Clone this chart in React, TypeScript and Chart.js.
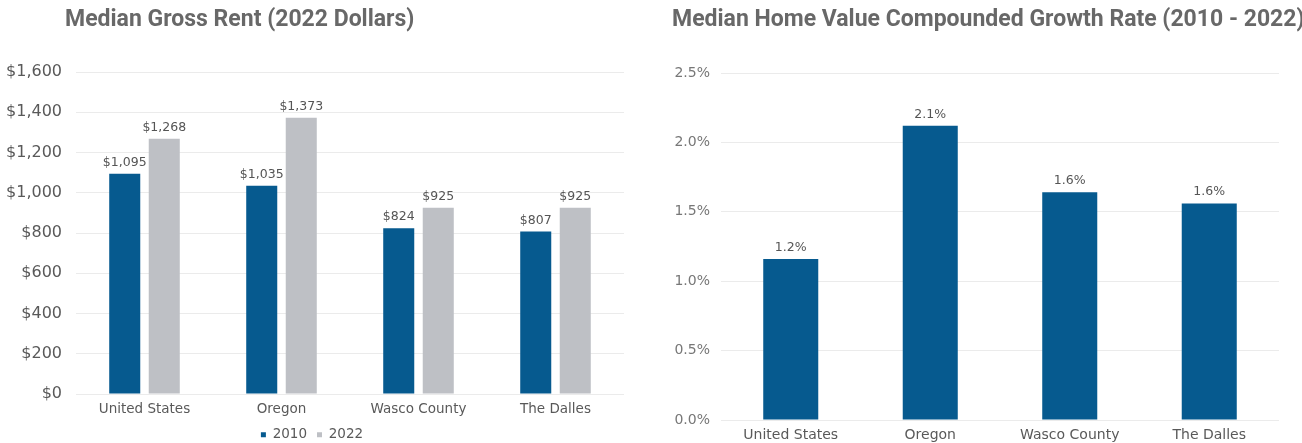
import React, { useEffect, useRef } from "react";
import { Chart, registerables } from "chart.js";

Chart.register(...registerables);

// ---- Data: Median Gross Rent (2022 Dollars) ----
const rentTitle = "Median Gross Rent (2022 Dollars)";
const rentCategories = ["United States", "Oregon", "Wasco County", "The Dalles"];
const rentSeriesLabels = ["2010", "2022"];
const rent2010 = [1095, 1035, 824, 807];
const rent2022 = [1268, 1373, 925, 925];
const rentAxisMin = 0;
const rentAxisMax = 1600;
const rentAxisStep = 200;

// ---- Data: Median Home Value Compounded Growth Rate ----
const growthTitle = "Median Home Value Compounded Growth Rate (2010 - 2022)";
const growthCategories = ["United States", "Oregon", "Wasco County", "The Dalles"];
const growthRates = [1.16, 2.12, 1.64, 1.56];
const growthAxisMin = 0;
const growthAxisMax = 2.5;
const growthAxisStep = 0.5;

const BLUE = "#065a8f";
const GRAY = "#bec0c5";
const FONT = "DejaVu Sans";

function makeTitlePlugin(text: string, x: number, y: number) {
  return {
    id: "customTitle",
    afterDraw(chart: any) {
      const ctx = chart.ctx;
      ctx.save();
      ctx.font = 'bold 23px "Roboto"';
      ctx.fillStyle = "#686868";
      ctx.textAlign = "left";
      ctx.textBaseline = "alphabetic";
      ctx.fillText(text, x, y);
      ctx.restore();
    },
  };
}

function makeValueLabelPlugin(format: (v: number) => string, size: number, color: string) {
  return {
    id: "valueLabels",
    afterDatasetsDraw(chart: any) {
      const ctx = chart.ctx;
      ctx.save();
      ctx.font = `${size}px "${FONT}"`;
      ctx.fillStyle = color;
      ctx.textAlign = "center";
      ctx.textBaseline = "bottom";
      chart.data.datasets.forEach((ds: any, di: number) => {
        const meta = chart.getDatasetMeta(di);
        meta.data.forEach((bar: any, i: number) => {
          ctx.fillText(format(ds.data[i]), bar.x, bar.y - 5);
        });
      });
      ctx.restore();
    },
  };
}

function RentChart() {
  const ref = useRef<HTMLCanvasElement>(null);
  useEffect(() => {
    if (!ref.current) return;
    const chart = new Chart(ref.current, {
      type: "bar",
      data: {
        labels: rentCategories,
        datasets: [
          {
            label: rentSeriesLabels[0],
            data: rent2010,
            backgroundColor: BLUE,
            categoryPercentage: 0.577,
            barPercentage: 0.785,
          },
          {
            label: rentSeriesLabels[1],
            data: rent2022,
            backgroundColor: GRAY,
            categoryPercentage: 0.577,
            barPercentage: 0.785,
          },
        ],
      },
      options: {
        animation: false,
        responsive: false,
        maintainAspectRatio: false,
        layout: { padding: { top: 72, right: 26, left: 0, bottom: 0 } },
        plugins: {
          title: { display: false },
          tooltip: { enabled: false },
          legend: {
            display: true,
            position: "bottom",
            maxHeight: 25,
            labels: {
              boxWidth: 5,
              boxHeight: 5,
              padding: 10,
              color: "#595959",
              font: { family: FONT, size: 13.5 },
            },
          },
        },
        scales: {
          x: {
            grid: { display: false, drawTicks: false },
            border: { display: false },
            ticks: {
              color: "#595959",
              padding: 7,
              font: { family: FONT, size: 13.5 },
              maxRotation: 0,
              autoSkip: false,
            },
            afterFit(scale: any) {
              scale.height = 24;
            },
          },
          y: {
            min: rentAxisMin,
            max: rentAxisMax,
            border: { display: false },
            grid: { color: "#ebebeb", lineWidth: 1, drawTicks: false },
            ticks: {
              stepSize: rentAxisStep,
              padding: 14,
              color: "#595959",
              font: { family: FONT, size: 16 },
              callback: (v: any) => "$" + Number(v).toLocaleString("en-US"),
            },
            afterFit(scale: any) {
              scale.width = 76;
            },
          },
        },
      } as any,
      plugins: [
        makeTitlePlugin(rentTitle, 65, 26),
        makeValueLabelPlugin((v) => "$" + v.toLocaleString("en-US"), 12.5, "#555555"),
      ],
    });
    return () => chart.destroy();
  }, []);
  return (
    <canvas
      ref={ref}
      width={650}
      height={443}
      style={{ position: "absolute", left: 0, top: 0, width: 650, height: 443, display: "block" }}
    />
  );
}

function GrowthChart() {
  const ref = useRef<HTMLCanvasElement>(null);
  useEffect(() => {
    if (!ref.current) return;
    const chart = new Chart(ref.current, {
      type: "bar",
      data: {
        labels: growthCategories,
        datasets: [
          {
            label: "Growth rate",
            data: growthRates,
            backgroundColor: BLUE,
            categoryPercentage: 0.8,
            barPercentage: 0.493,
          },
        ],
      },
      options: {
        animation: false,
        responsive: false,
        maintainAspectRatio: false,
        layout: { padding: { top: 73, right: 23, left: 0, bottom: 0 } },
        plugins: {
          title: { display: false },
          tooltip: { enabled: false },
          legend: { display: false },
        },
        scales: {
          x: {
            grid: { display: false, drawTicks: false },
            border: { display: false },
            ticks: {
              color: "#595959",
              padding: 7,
              font: { family: FONT, size: 14 },
              maxRotation: 0,
              autoSkip: false,
            },
            afterFit(scale: any) {
              scale.height = 23;
            },
          },
          y: {
            min: growthAxisMin,
            max: growthAxisMax,
            border: { display: false },
            grid: { color: "#ebebeb", lineWidth: 1, drawTicks: false },
            ticks: {
              stepSize: growthAxisStep,
              padding: 11,
              color: "#777777",
              font: { family: FONT, size: 14 },
              callback: (v: any) => Number(v).toFixed(1) + "%",
            },
            afterFit(scale: any) {
              scale.width = 71;
            },
          },
        },
      } as any,
      plugins: [
        makeTitlePlugin(growthTitle, 22, 26),
        makeValueLabelPlugin((v) => v.toFixed(1) + "%", 12.5, "#555555"),
      ],
    });
    return () => chart.destroy();
  }, []);
  return (
    <canvas
      ref={ref}
      width={652}
      height={443}
      style={{ position: "absolute", left: 650, top: 0, width: 652, height: 443, display: "block" }}
    />
  );
}

export default function App() {
  return (
    <div
      style={{
        position: "absolute",
        left: 0,
        top: 0,
        width: 1302,
        height: 443,
        background: "#ffffff",
        overflow: "hidden",
      }}
    >
      <RentChart />
      <GrowthChart />
    </div>
  );
}
